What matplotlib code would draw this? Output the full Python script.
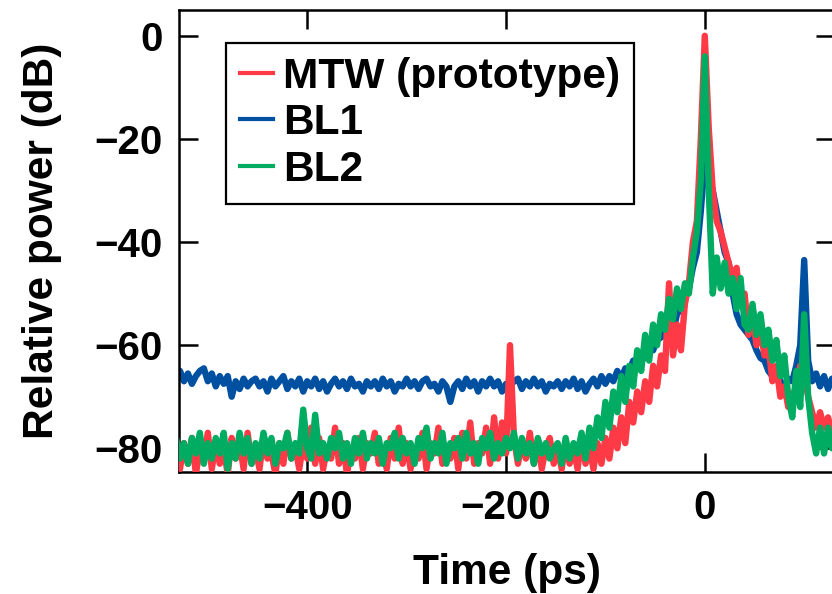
import matplotlib
matplotlib.use('Agg')
import matplotlib.pyplot as plt
import numpy as np

# time axis (ps), one sample every 4 ps
t_start = -532
t_step = 4

# MTW (prototype), red
mtw = [
    -80, -84, -79, -83, -78, -85, -80, -82, -77, -84,
    -79, -83, -80, -85, -78, -82, -79, -84, -77, -83,
    -80, -84, -78, -82, -81, -85, -79, -83, -77, -82,
    -80, -84, -79, -82, -76, -83, -78, -84, -80, -82,
    -76, -83, -79, -85, -80, -82, -78, -84, -79, -81,
    -77, -83, -80, -84, -78, -82, -76, -83, -79, -84,
    -80, -82, -77, -84, -79, -81, -76, -83, -80, -82,
    -78, -84, -77, -82, -75, -83, -79, -81, -76, -83,
    -74, -82, -75, -81, -60, -78, -83, -79, -82, -77,
    -83, -79, -84, -80, -78, -83,
    -80, -84, -79, -83, -80, -84, -78, -83, -80, -84,
    -79, -83, -78, -82, -76, -80, -74, -79, -71, -75,
    -69, -73, -67, -71, -64, -68, -62, -65, -48, -62,
    -56, -61, -52, -48, -40, -36, -20,
    0,
    -18, -30, -36, -38, -41, -44, -47, -45, -52, -50,
    -58, -54, -60, -57, -62, -60, -67, -64, -70, -68,
    -72, -70, -68, -64, -66, -70, -73, -76, -73, -76,
    -74, -77, -75,
]

# BL1, blue
bl1 = [
    -66, -65, -67, -65.5, -67.5, -66, -65, -64.5, -67, -65.5,
    -68, -66, -67.5, -66, -70, -67, -68.5, -66.5, -68, -67,
    -66.5, -68, -67, -69, -66.5, -68, -67, -66, -68.5, -67,
    -68, -66.5, -69, -67, -68, -66.5, -68.5, -67, -69, -67.5,
    -66.5, -68, -67, -68.5, -66.5, -68, -67.5, -69, -67, -68,
    -67, -68.5, -66.5, -68, -67, -69, -67.5, -68, -66.5, -68,
    -67, -68.5, -67, -66.5, -68, -67.5, -69, -67, -68, -71,
    -68, -67, -68.5, -66.5, -68, -67, -69, -67, -68, -66.5,
    -68, -67, -69, -67.5, -68, -67, -66.5, -68.5, -67, -68,
    -66.5, -68, -67, -69, -67.5, -68,
    -67, -68.5, -67, -68, -66.5, -68.5, -67, -69, -67.5, -66.5,
    -68, -66, -67.5, -66, -67, -65, -66.5, -64.5, -65, -63,
    -63.5, -62, -62.5, -60.5, -61, -59, -58.5, -56.5, -57, -57.5,
    -54, -53, -50, -49, -45, -42, -34,
    -24,
    -27, -30, -34, -38, -42, -44, -50, -54, -56, -57,
    -58, -59, -61, -62.5, -63, -65, -66, -65, -67, -68,
    -66.5, -67, -64, -60, -43.5, -63, -67, -65.5, -68, -66,
    -68.5, -66.5, -68,
]

# BL2, green
bl2 = [
    -78, -82, -79, -83, -78, -81, -77, -83, -79, -82,
    -78, -81, -77, -84, -79, -82, -77, -81, -78, -83,
    -79, -82, -77, -81, -78, -83, -79, -80, -77, -82,
    -79, -81, -72.5, -80, -82, -73.5, -81, -79, -82, -78,
    -80, -77, -82, -79, -83, -78, -81, -77, -82, -79,
    -81, -78, -83, -79, -80, -77, -82, -78, -81, -79,
    -83, -78, -80, -76, -82, -79, -81, -77, -83, -79,
    -80, -78, -82, -77, -81, -79, -83, -78, -80, -77,
    -82, -79, -81, -78, -80, -77, -82, -78, -81, -79,
    -83, -78, -81, -79, -82, -80,
    -79, -83, -78, -82, -79, -81, -77, -82, -76, -80,
    -74, -78, -71, -76, -69, -73, -66, -71, -64, -68,
    -61, -65, -58, -63, -56, -60, -54, -57, -51, -55,
    -49, -53, -48, -50, -43, -38, -28,
    -4,
    -30, -50, -43, -49, -44, -50, -47, -53, -47, -56,
    -57, -52, -58, -54, -60, -57, -63, -59, -66, -62,
    -70, -74, -65, -72, -54, -70, -77, -81, -76, -81,
    -76, -80, -78,
]

labels = ['MTW (prototype)', 'BL1', 'BL2']
colors = ['#ff3a47', '#0050a2', '#00ac62']


def main():
    plt.rcParams['font.family'] = ['Liberation Sans', 'DejaVu Sans']
    plt.rcParams['font.weight'] = 'bold'
    plt.rcParams['axes.labelweight'] = 'bold'

    t = t_start + t_step * np.arange(len(mtw))

    fig = plt.figure(figsize=(8.32, 5.94), dpi=100)
    ax = fig.add_axes([179 / 832, 122 / 594, 656 / 832, 462 / 594])

    lw = 4.6
    l_bl1, = ax.plot(t, bl1, color=colors[1], lw=lw, solid_joinstyle='round', zorder=2)
    l_mtw, = ax.plot(t, mtw, color=colors[0], lw=lw, solid_joinstyle='round', zorder=3)
    l_bl2, = ax.plot(t, bl2, color=colors[2], lw=lw, solid_joinstyle='round', zorder=4)

    ax.set_xlim(-529, 131)
    ax.set_ylim(-84.6, 5)
    ax.set_xticks([-400, -200, 0])
    ax.set_yticks([0, -20, -40, -60, -80])
    ax.tick_params(direction='in', length=14, width=1.8, labelsize=29,
                   top=True, right=True, pad=12)
    for s in ax.spines.values():
        s.set_linewidth(1.8)

    ax.set_xlabel('Time (ps)', fontsize=30.5, labelpad=19)
    ax.set_ylabel('Relative power (dB)', fontsize=30.5, labelpad=23)

    leg = ax.legend([l_mtw, l_bl1, l_bl2], labels, loc='upper left',
                    bbox_to_anchor=(0.0716, 0.9286), borderaxespad=0,
                    fontsize=30.5, fancybox=False, framealpha=1, edgecolor='black',
                    handlelength=0.78, handletextpad=0.24, labelspacing=0.15,
                    borderpad=0.33)
    leg.get_frame().set_linewidth(1.6)
    for line in leg.get_lines():
        line.set_linewidth(3)

    fig.savefig('out.png', dpi=100)


if __name__ == "__main__":
    main()
